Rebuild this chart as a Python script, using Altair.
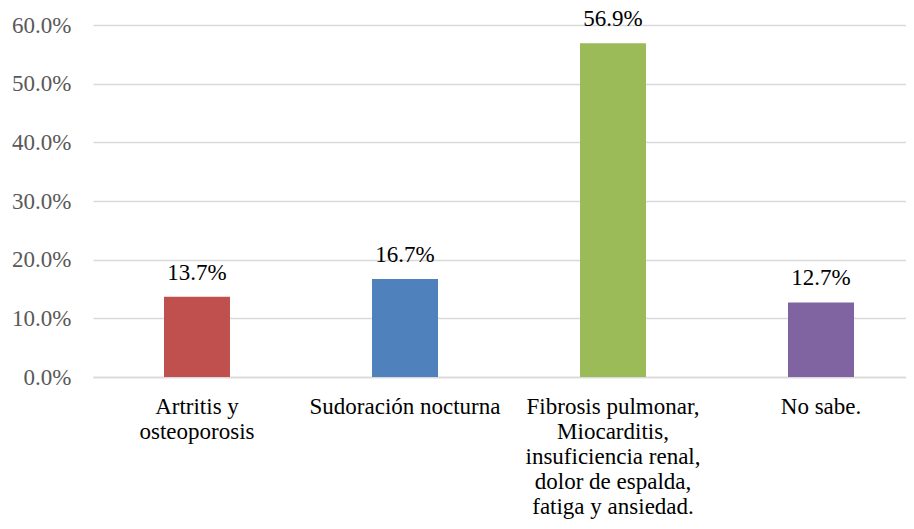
import altair as alt
import pandas as pd

categories = [
    "Artritis y\nosteoporosis",
    "Sudoración nocturna",
    "Fibrosis pulmonar,\nMiocarditis,\ninsuficiencia renal,\ndolor de espalda,\nfatiga y ansiedad.",
    "No sabe.",
]
values = [0.137, 0.167, 0.569, 0.127]
colors = ["#C0504D", "#4F81BD", "#9BBB59", "#8064A2"]
y_ticks = [0.0, 0.1, 0.2, 0.3, 0.4, 0.5, 0.6]

df = pd.DataFrame({"cat": categories, "val": values, "color": colors})

FONT = "Liberation Serif"

x = alt.X(
    "cat:N",
    sort=categories,
    scale=alt.Scale(range=[0, 832], paddingInner=0.6827, paddingOuter=0.3413),
    axis=alt.Axis(
        title=None,
        labelAngle=0,
        labelExpr="split(datum.label, '\\n')",
        labelFont=FONT,
        labelFontSize=23,
        labelColor="#000000",
        labelLineHeight=25,
        labelBaseline="alphabetic",
        labelPadding=36,
        labelLimit=0,
        labelOverlap=False,
        ticks=False,
        tickSize=0,
        domain=True,
        domainColor="#d9d9d9",
        domainWidth=1.5,
        grid=False,
    ),
)

y = alt.Y(
    "val:Q",
    scale=alt.Scale(domain=[0, 0.6], nice=False),
    axis=alt.Axis(
        title=None,
        values=y_ticks,
        format=".1%",
        labelFont=FONT,
        labelFontSize=23,
        labelColor="#595959",
        labelPadding=22,
        ticks=False,
        tickSize=0,
        domain=False,
        grid=True,
        gridColor="#d9d9d9",
        gridWidth=1.5,
    ),
)

bars = alt.Chart(df).mark_bar().encode(
    x=x,
    y=y,
    color=alt.Color("color:N", scale=None, legend=None),
)

labels = alt.Chart(df).mark_text(
    font=FONT, fontSize=23, color="#000000", baseline="alphabetic", dy=-17
).encode(
    x=alt.X("cat:N", sort=categories),
    y=alt.Y("val:Q"),
    text=alt.Text("val:Q", format=".1%"),
)

chart = (
    alt.layer(bars, labels)
    .properties(
        width=813,
        height=352,
        autosize=alt.AutoSizeParams(type="none"),
        padding={"left": 85, "top": 17, "right": 0, "bottom": 144},
    )
    .configure(background="#ffffff", font=FONT)
    .configure_view(strokeWidth=0)
)

chart.save("out.html", embed_options={"renderer": "svg", "actions": False})
